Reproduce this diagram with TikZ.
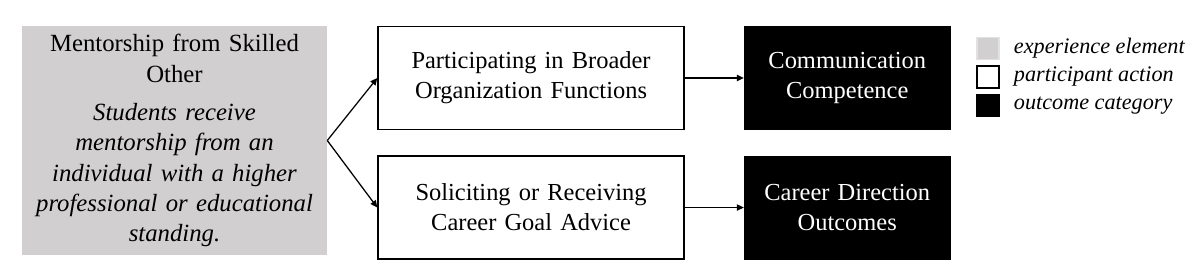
\documentclass[tikz,border=0pt]{standalone}
\usepackage{fontspec}
\setmainfont{Liberation Serif}
\usepackage{tikz}
\usetikzlibrary{arrows.meta, positioning}
\definecolor{mentorfill}{RGB}{209,207,207}
\definecolor{keyborder}{RGB}{225,225,225}
\tikzset{
  elementbox/.style={
    rectangle, fill=mentorfill, draw=none,
    minimum width=7.625cm, minimum height=5.725cm,
    text width=7.5cm, align=center, inner sep=0pt,
    font=\fontsize{17.6}{21.4}\selectfont},
  actionbox/.style={
    rectangle, fill=white, draw=black, line width=1.1pt,
    minimum width=7.65cm, minimum height=2.575cm,
    text width=7.4cm, align=center, inner sep=0pt,
    font=\fontsize{17.4}{21.4}\selectfont},
  outcomebox/.style={
    rectangle, fill=black, draw=black, line width=0.6pt,
    text=white, minimum width=5.15cm, minimum height=2.575cm,
    text width=5cm, align=center, inner sep=0pt,
    font=\fontsize{17.4}{21.4}\selectfont},
  keysquare/.style={
    rectangle, minimum size=0.55cm, inner sep=0pt, line width=0.9pt},
  keytext/.style={
    anchor=west, inner sep=0pt,
    font=\fontsize{15.8}{18}\selectfont\itshape},
  arrow/.style={-{Triangle[length=5pt, width=4.5pt]}, line width=0.9pt,
                color=black}
}
\begin{document}
\begin{tikzpicture}[node distance=0.625cm and 1.475cm]

  \useasboundingbox (0,0) rectangle (30,-6.925);

  %% experience element
  \node[elementbox] (mentor) at (4.3625,-3.5125)
    {Mentorship from Skilled\\Other\\[0.22cm]
     \itshape Students receive\\mentorship from an\\individual with a higher\\
     professional or educational\\standing.};

  %% participant actions
  \node[actionbox, right=1.25cm of mentor.north east, anchor=north west]
    (broader) {Participating in Broader\\Organization Functions};
  \node[actionbox, below=of broader]
    (advice) {Soliciting or Receiving\\Career Goal Advice};

  %% outcomes
  \node[outcomebox, right=of broader]
    (commun) {Communication\\Competence};
  \node[outcomebox, right=of advice]
    (career) {Career Direction\\Outcomes};

  %% legend
  \node[keysquare, fill=mentorfill, draw=keyborder] (keyexp) at (24.7,-1.2125) {};
  \node[keysquare, fill=white, draw=black, below=0.13cm of keyexp] (keyact) {};
  \node[keysquare, fill=black, draw=black, below=0.13cm of keyact] (keyout) {};
  \node[keytext, right=0.35cm of keyexp] (expl) {experience element};
  \node[keytext, right=0.35cm of keyact] (actl) {participant action};
  \node[keytext, right=0.35cm of keyout] (outl) {outcome category};

  %% Arrows
  \draw[arrow] (mentor.east)  -- (broader.west);
  \draw[arrow] (mentor.east)  -- (advice.west);
  \draw[arrow] (broader.east) -- (commun.west);
  \draw[arrow] (advice.east)  -- (career.west);

\end{tikzpicture}
\end{document}
